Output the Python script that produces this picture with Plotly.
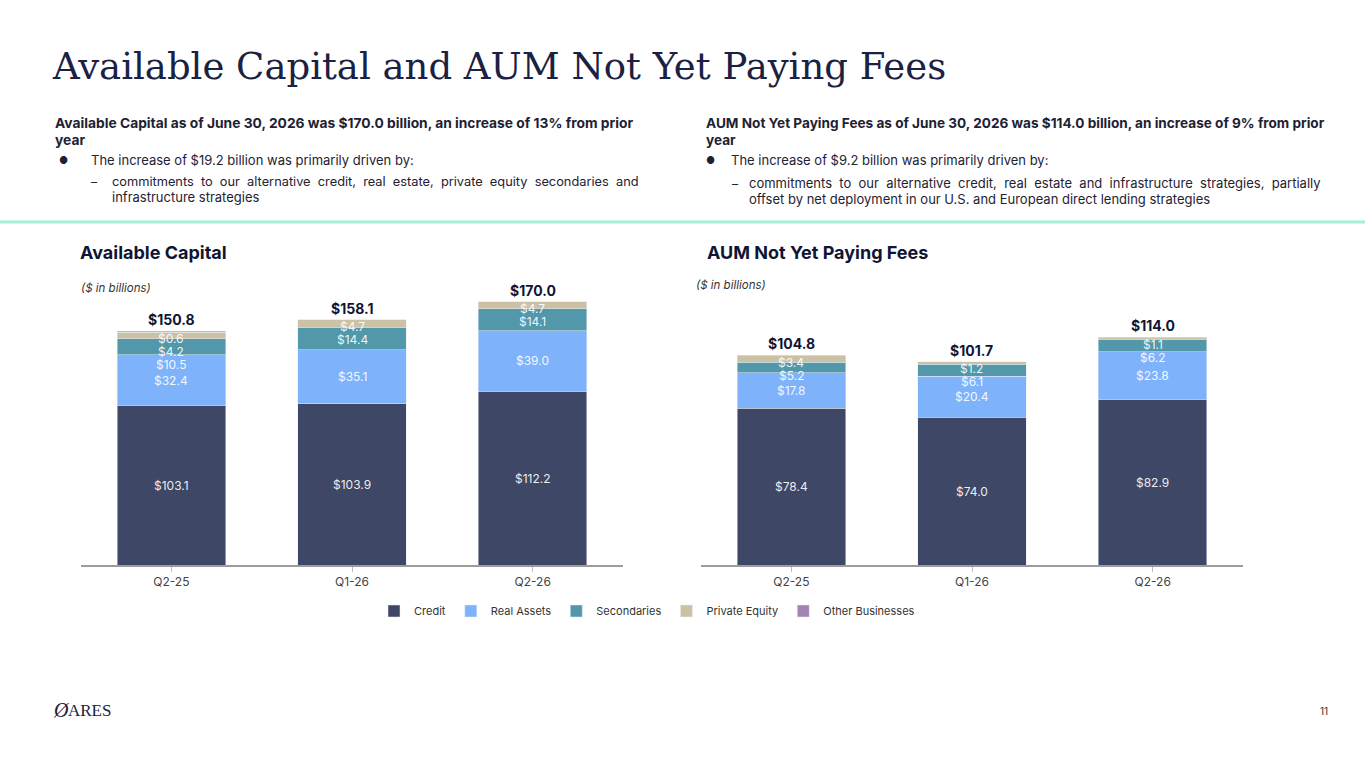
import plotly.graph_objects as go

W, H = 1365, 768

# data
quarters = ["Q2-25", "Q1-26", "Q2-26"]
series_names = ["Credit", "Real Assets", "Secondaries", "Private Equity", "Other Businesses"]
series_colors = ["#3f4766", "#7eb3fc", "#5397aa", "#cbc2a5", "#a583b1"]

ac_credit = [103.1, 103.9, 112.2]
ac_real = [32.4, 35.1, 39.0]
ac_secondaries = [10.5, 14.4, 14.1]
ac_private_equity = [4.2, 4.7, 4.7]
ac_other = [0.6, 0.0, 0.0]
ac_total = [150.8, 158.1, 170.0]

nyp_credit = [78.4, 74.0, 82.9]
nyp_real = [17.8, 20.4, 23.8]
nyp_secondaries = [5.2, 6.1, 6.2]
nyp_private_equity = [3.4, 1.2, 1.1]
nyp_total = [104.8, 101.7, 114.0]


def px(x):
    return x / W


def py(y):
    return 1 - y / H


NAVY = "#1b2142"
TXT = "#1e2233"

# plot area (pixels)
base_y, top_y = 565, 285
plot_h = base_y - top_y
left_scale = 1.55   # px per $bn
right_scale = 2.0

fig = go.Figure()

left_stack = [ac_credit, ac_real, ac_secondaries, ac_private_equity, ac_other]
right_stack = [nyp_credit, nyp_real, nyp_secondaries, nyp_private_equity]

for i, vals in enumerate(left_stack):
    fig.add_trace(go.Bar(
        x=quarters, y=vals, name=series_names[i], marker_color=series_colors[i],
        width=0.6, xaxis="x", yaxis="y", legendrank=i,
        hovertemplate="%{x}: $%{y:.1f}<extra>" + series_names[i] + "</extra>",
    ))
for i, vals in enumerate(right_stack):
    fig.add_trace(go.Bar(
        x=quarters, y=vals, name=series_names[i], marker_color=series_colors[i],
        width=0.6, xaxis="x2", yaxis="y2", showlegend=False,
        hovertemplate="%{x}: $%{y:.1f}<extra>" + series_names[i] + "</extra>",
    ))

annotations = []


def label_stack(stack, totals, scale, xref, yref):
    # segment labels, pushed down from the bar top when segments are too thin
    for j, q in enumerate(quarters):
        segs = []
        bottom = 0
        for vals in stack:
            v = vals[j]
            if v > 0:
                segs.append((v, bottom + v / 2))
            bottom += v
        limit = totals[j] - 7 / scale
        placed = []
        for v, c in reversed(segs):
            y = min(c, limit)
            placed.append((v, y))
            limit = y - 13 / scale
        for v, y in placed:
            annotations.append(dict(
                x=q, y=y, xref=xref, yref=yref, text="$%.1f" % v, showarrow=False,
                font=dict(family="Inter", size=12, color="rgba(255,255,255,0.92)"),
                yanchor="middle",
            ))
        annotations.append(dict(
            x=q, y=totals[j], xref=xref, yref=yref, text="<b>$%.1f</b>" % totals[j],
            showarrow=False, yanchor="bottom", yshift=1,
            font=dict(family="Inter", size=14, color="#0f1533"),
        ))


label_stack(left_stack, ac_total, left_scale, "x", "y")
label_stack(right_stack, nyp_total, right_scale, "x2", "y2")


def txt(x, y, text, size=12, bold=False, italic=False, color=TXT, family="Inter", anchor="left"):
    if bold:
        text = "<b>" + text + "</b>"
    if italic:
        text = "<i>" + text + "</i>"
    annotations.append(dict(
        x=px(x), y=py(y), xref="paper", yref="paper", text=text, showarrow=False,
        xanchor=anchor, yanchor="middle", font=dict(family=family, size=size, color=color),
    ))


# title
txt(50, 66, "Available Capital and AUM Not Yet Paying Fees", size=37, color=NAVY,
    family="DejaVu Serif")

# left commentary
txt(53, 123, "Available Capital as of June 30, 2026 was $170.0 billion, an increase of 13% from prior", 13.8, bold=True)
txt(53, 140, "year", 13.8, bold=True)
txt(57, 160, "●", 10)
txt(89, 160, "The increase of $19.2 billion was primarily driven by:", 13)
txt(89, 181, "–", 12)
txt(110, 181, "commitments  to  our  alternative  credit,  real  estate,  private  equity  secondaries  and", 12.8)
txt(110, 197, "infrastructure strategies", 13)

# right commentary
txt(704, 123, "AUM Not Yet Paying Fees as of June 30, 2026 was $114.0 billion, an increase of 9% from prior", 13.6, bold=True)
txt(704, 140, "year", 13.6, bold=True)
txt(704, 160, "●", 10)
txt(729, 160, "The increase of $9.2 billion was primarily driven by:", 13)
txt(730, 183, "–", 12)
txt(747, 183, "commitments  to  our  alternative  credit,  real  estate  and  infrastructure  strategies,  partially", 13)
txt(747, 199, "offset by net deployment in our U.S. and European direct lending strategies", 13)

# chart titles
txt(78, 252, "Available Capital", 18, bold=True, color="#0f1533")
txt(705, 252, "AUM Not Yet Paying Fees", 18, bold=True, color="#0f1533")
txt(79, 288, "($ in billions)", 11.5, italic=True, color="#333")
txt(694, 285, "($ in billions)", 11.5, italic=True, color="#333")

# footer
txt(51, 710, "<i>Ø</i>", 20, color=NAVY, family="Liberation Serif")
txt(66, 710, "ARES", 17, color=NAVY, family="Liberation Serif")
txt(1330, 711, "11", 10, color="#333", anchor="right")

axis_common = dict(
    type="category", range=[-0.5, 2.5], showline=True, linecolor="#9c9c9c", linewidth=1.5,
    ticks="outside", ticklen=5, tickcolor="#bdbdbd", showgrid=False, zeroline=False,
    tickfont=dict(family="Inter", size=12, color="#444"),
)

fig.update_layout(
    width=W, height=H, margin=dict(l=0, r=0, t=0, b=0),
    paper_bgcolor="white", plot_bgcolor="white",
    barmode="stack", bargap=0.4,
    xaxis=dict(domain=[px(81), px(623)], anchor="y", **axis_common),
    xaxis2=dict(domain=[px(701), px(1243)], anchor="y2", **axis_common),
    yaxis=dict(domain=[py(base_y), py(top_y)], range=[0, plot_h / left_scale], visible=False),
    yaxis2=dict(domain=[py(base_y), py(top_y)], range=[0, plot_h / right_scale], visible=False, anchor="x2"),
    legend=dict(orientation="h", x=0.474, xanchor="center", y=py(611), yanchor="middle",
                font=dict(family="Inter", size=11, color="#333"), traceorder="normal",
                itemclick=False),
    annotations=annotations,
    shapes=[dict(type="line", xref="paper", yref="paper", x0=0, x1=1, y0=py(222), y1=py(222),
                 line=dict(color="#a8efdb", width=3))],
    showlegend=True,
)

# drop the default page margin so the slide sits at the window origin
fig.write_html("out.html", config={"displayModeBar": False},
               post_script="document.body.style.margin='0';")
